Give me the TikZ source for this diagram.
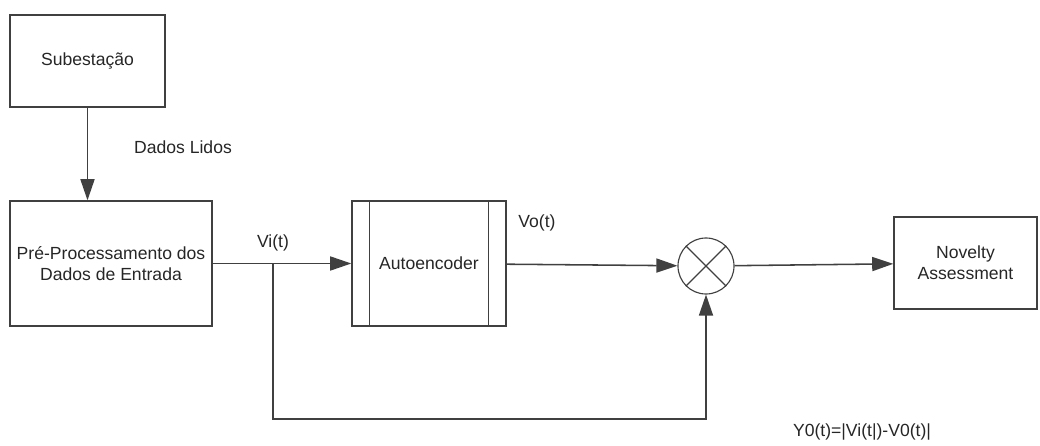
\documentclass[tikz,border=0pt]{standalone}
\usepackage{fontspec}
\setmainfont{Liberation Sans}
\usepackage{xcolor}
\usetikzlibrary{arrows.meta}
\usetikzlibrary{shapes.geometric}
\definecolor{lgray}{RGB}{64,64,64}

\tikzset{
  blk/.style={draw=lgray, line width=1pt, rectangle, align=center, inner sep=0pt},
  arr/.style={draw=lgray, line width=1.1pt, -{Triangle[length=15pt,width=10pt]}},
  lbl/.style={inner sep=0pt}
}

\begin{document}
\begin{tikzpicture}[x=0.025cm, y=-0.025cm, font=\fontsize{12.5}{15}\selectfont, text=black!85]

\useasboundingbox (0,0) rectangle (1040,446);

% blocks
\node[blk, minimum width=3.875cm, minimum height=2.3cm] (sub) at (87.5,61) {Subestação};
\node[blk, minimum width=5.05cm, minimum height=3.125cm] (pre) at (111,263.5) {Pré-Processamento dos\\Dados de Entrada};
\node[blk, minimum width=3.85cm, minimum height=3.125cm] (ae) at (429,263.5) {Autoencoder};
\draw[lgray, line width=1pt] ([xshift=0.45cm]ae.north west) -- ([xshift=0.45cm]ae.south west);
\draw[lgray, line width=1pt] ([xshift=-0.45cm]ae.north east) -- ([xshift=-0.45cm]ae.south east);
\node[draw=lgray, line width=0.8pt, circle, minimum size=1.4cm, inner sep=0pt] (cmp) at (706,266) {};
\draw[lgray, line width=0.8pt] (cmp.north east) -- (cmp.south west);
\draw[lgray, line width=0.8pt] (cmp.north west) -- (cmp.south east);
\node[blk, minimum width=3.575cm, minimum height=2.3cm] (nov) at (965.5,263) {Novelty\\Assessment};

% connectors
\draw[arr] (sub.south) -- (sub.south |- pre.north);
\draw[arr] (pre) -- (ae);
\draw[arr] (ae) -- (cmp);
\draw[arr] (cmp) -- (nov);
\coordinate (br) at (273,264);
\coordinate (fb) at (273,419);
\draw[arr] (br) -- (fb) -| (cmp.south);

% labels
\node[lbl] (dados) at (183,147) {Dados Lidos};
\node[lbl] (vi) at (273,243) {Vi(t)};
\node[lbl] (vo) at (537,223) {Vo(t)};
\node[lbl] (y0) at (862,432) {Y0(t)=|Vi(t|)-V0(t)|};

\end{tikzpicture}
\end{document}
